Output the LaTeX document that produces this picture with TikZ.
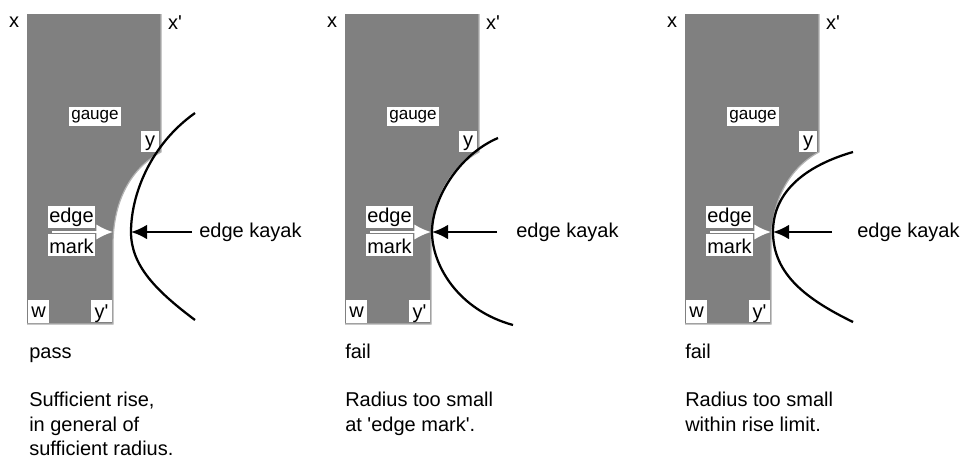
\documentclass[tikz,border=0pt]{standalone}
\usepackage{fontspec}
\setmainfont{Liberation Sans}
\usetikzlibrary{arrows.meta}
\definecolor{gaugegrey}{HTML}{808080}
\definecolor{rimgrey}{HTML}{B4B4B4}
\newcommand{\pxfont}[1]{\fontsize{#1}{#1}\selectfont}
\newcommand{\sq}{\textquotesingle}
\tikzset{
  x=0.75pt,y=-0.75pt,
  gaugebody/.style={fill=gaugegrey},
  gaugerim/.style={draw=rimgrey,line width=0.9pt},
  tag/.style={fill=white,inner sep=0pt,align=center,font=\pxfont{15pt}},
  smalltag/.style={fill=white,inner sep=0pt,font=\pxfont{12.8pt},align=center},
  plain/.style={inner sep=0pt,font=\pxfont{15pt}},
  headline/.style={inner sep=0pt,anchor=base west,font=\pxfont{15pt}},
  caption/.style={inner sep=0pt,anchor=base west,font=\pxfont{15pt}},
  hull/.style={draw=black,line width=1.7pt},
  pointer/.style={draw=black,line width=1.5pt,-{Latex[length=12pt,width=11pt]}},
  markarrow/.style={draw=white,line width=1.5pt,-{Latex[length=12.5pt,width=11.5pt]}}
}
\newcommand{\gaugepanel}[2]{%
  \begin{scope}[xshift=#1*0.75pt]
    \path[gaugebody] (27,14) -- (161,14) -- (161,152)
      .. controls (128,170) and (113,205) .. (113,245) -- (113,324) -- (27,324) -- cycle;
    \draw[gaugerim] (161,14) -- (161,152)
      .. controls (128,170) and (113,205) .. (113,245) -- (113,324) -- (27,324);
    \node[plain] (x#2) at (14,22) {x};
    \node[plain] (xp#2) at (175,23) {x\sq};
    \node[smalltag,minimum width=38.5pt,text height=9.75pt,text depth=4.5pt] (gauge#2) at (95,116) {gauge};
    \node[tag,minimum width=13.5pt,text height=11.25pt,text depth=4.5pt] (y#2) at (150,141.5) {y};
    \node[tag,minimum width=35pt,text height=12.5pt,text depth=4pt] (edge#2) at (71.5,217) {edge};
    \node[tag,minimum width=35pt,text height=14.25pt,text depth=2.25pt] (mark#2) at (71.5,245) {mark};
    \node[tag,minimum width=15.5pt,text height=13.5pt,text depth=3.75pt] (w#2) at (38.5,311) {w};
    \node[tag,minimum width=15.5pt,text height=14pt,text depth=3.1pt] (yp#2) at (101.5,311) {y\sq};
    \coordinate (ms#2) at (52,232);
  \end{scope}}
\begin{document}
\begin{tikzpicture}
\useasboundingbox (0,0) rectangle (963,458);
% left panel
\gaugepanel{0}{a}
\coordinate (mta) at (113,232);
\draw[markarrow] (msa) -- (mta);
\coordinate (hta) at (131,232);
\draw[hull] (195,113) .. controls (150,145) and (131,195) .. (hta)
  .. controls (131,265) and (155,290) .. (195,320);
\node[plain,anchor=west] (ka) at (199,232) {edge kayak};
\draw[pointer] (ka.west) ++(-7,0) coordinate (psa) (psa) -- (hta);
\node[headline] (pa) at (29,358) {pass};
\node[caption] (caa) at (29,406.5) {Sufficient rise,};
\node[caption] (cab) at (29,431) {in general of};
\node[caption] (cac) at (29,455.5) {sufficient radius.};
% middle panel
\gaugepanel{318}{b}
\coordinate (mtb) at (431,232);
\draw[markarrow] (msb) -- (mtb);
\coordinate (htb) at (432,232);
\draw[hull] (498,138) .. controls (458,155) and (432,200) .. (htb)
  .. controls (432,265) and (458,310) .. (513,325);
\node[plain,anchor=west] (kb) at (516,232) {edge kayak};
\draw[pointer] (497,232) coordinate (psb) -- (htb);
\node[headline] (pb) at (345,358) {fail};
\node[caption] (cba) at (345,406.5) {Radius too small};
\node[caption] (cbb) at (345,431) {at \sq edge mark\sq.};
% right panel
\gaugepanel{658}{c}
\coordinate (mtc) at (771,232);
\draw[markarrow] (msc) -- (mtc);
\coordinate (htc) at (773,232);
\draw[hull] (853,152) .. controls (808,165) and (773,190) .. (htc)
  .. controls (773,275) and (808,300) .. (853,322);
\node[plain,anchor=west] (kc) at (857,232) {edge kayak};
\draw[pointer] (832,232) coordinate (psc) -- (htc);
\node[headline] (pc) at (685,358) {fail};
\node[caption] (cca) at (685,406.5) {Radius too small};
\node[caption] (ccb) at (685,431) {within rise limit.};
\end{tikzpicture}
\end{document}
